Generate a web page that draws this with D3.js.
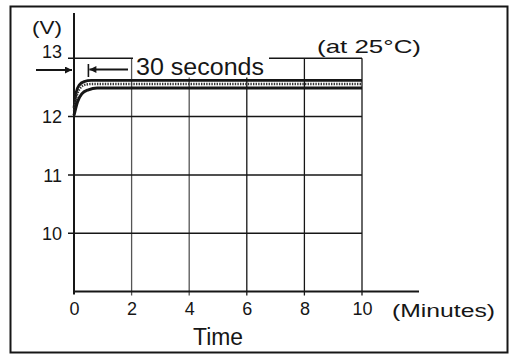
<!DOCTYPE html>
<html>
<head>
<meta charset="utf-8">
<script src="https://cdn.jsdelivr.net/npm/d3@7"></script>
<style>
  body { margin: 0; background: #fff; }
  text { font-family: "Liberation Sans", Arial, sans-serif; fill: #161616; }
</style>
</head>
<body>
<script>
// values (minutes, volts)
const xTicks = [0, 2, 4, 6, 8, 10];
const yTicks = [10, 11, 12, 13];
const upperCurve = [[0, 12.15], [0.08, 12.42], [0.18, 12.54], [0.35, 12.6], [0.6, 12.62], [10, 12.62]];
const middleCurve = [[0, 12.1], [0.1, 12.36], [0.22, 12.49], [0.42, 12.55], [0.7, 12.56], [10, 12.56]];
const lowerCurve = [[0, 12.02], [0.12, 12.25], [0.27, 12.39], [0.5, 12.46], [0.8, 12.49], [10, 12.49]];
const markerMinutes = 0.5;

const W = 514, H = 356;
const svg = d3.select("body").append("svg").attr("width", W).attr("height", H);

const x = d3.scaleLinear().domain([0, 10]).range([74, 362]);
const y = d3.scaleLinear().domain([9, 13]).range([291.5, 58.3]);
const ink = "#161616";

svg.append("rect")
  .attr("x", 10.5).attr("y", 6.5).attr("width", 497).attr("height", 346)
  .attr("fill", "none").attr("stroke", ink).attr("stroke-width", 2);

// grid
svg.append("g").selectAll("line").data(xTicks.filter(d => d > 0)).enter().append("line")
  .attr("x1", d => x(d)).attr("x2", d => x(d))
  .attr("y1", y(9) + 4).attr("y2", y(13))
  .attr("stroke", d => (d < 5 ? "#555" : ink)).attr("stroke-width", 1.3);
svg.append("g").selectAll("line").data(yTicks).enter().append("line")
  .attr("x1", x(0) - 6).attr("x2", x(10))
  .attr("y1", d => y(d)).attr("y2", d => y(d))
  .attr("stroke", ink).attr("stroke-width", 1.5);

// axes
const yAxis = svg.append("g").attr("transform", `translate(${x(0)},0)`)
  .call(d3.axisLeft(y).tickValues(yTicks).tickFormat(d3.format("d")).tickSize(0).tickPadding(12));
yAxis.select(".domain").remove();
yAxis.selectAll("text").attr("font-size", 18).attr("fill", ink)
  .attr("dy", d => (d === 13 ? "-0.02em" : "0.34em"));
const xAxis = svg.append("g").attr("transform", `translate(0,${y(9)})`)
  .call(d3.axisBottom(x).tickValues(xTicks).tickFormat(d3.format("d")).tickSize(0).tickPadding(11));
xAxis.select(".domain").remove();
xAxis.selectAll("text").attr("font-size", 18).attr("fill", ink);

svg.append("line").attr("x1", x(0)).attr("x2", x(0)).attr("y1", y(9) + 3).attr("y2", 13)
  .attr("stroke", ink).attr("stroke-width", 2);
svg.append("line").attr("x1", x(0) - 1).attr("x2", 419).attr("y1", y(9)).attr("y2", y(9))
  .attr("stroke", ink).attr("stroke-width", 2);

// curves
const line = d3.line().x(d => x(d[0])).y(d => y(d[1])).curve(d3.curveMonotoneX);
svg.append("path").datum(upperCurve).attr("d", line)
  .attr("fill", "none").attr("stroke", ink).attr("stroke-width", 2.8);
svg.append("path").datum(middleCurve).attr("d", line)
  .attr("fill", "none").attr("stroke", "#333").attr("stroke-width", 2.4)
  .attr("stroke-dasharray", "1.4,1.2");
svg.append("path").datum(lowerCurve).attr("d", line)
  .attr("fill", "none").attr("stroke", ink).attr("stroke-width", 3);

// 30 seconds marker
const defs = svg.append("defs");
defs.append("marker").attr("id", "head").attr("viewBox", "0 0 10 10")
  .attr("refX", 10).attr("refY", 5).attr("markerWidth", 10).attr("markerHeight", 7)
  .attr("markerUnits", "userSpaceOnUse").attr("orient", "auto")
  .append("path").attr("d", "M0,0L10,5L0,10z").attr("fill", ink);
svg.append("line").attr("x1", 36).attr("x2", x(0) - 2).attr("y1", 70).attr("y2", 70)
  .attr("stroke", ink).attr("stroke-width", 2).attr("marker-end", "url(#head)");
svg.append("line").attr("x1", 128).attr("x2", x(markerMinutes) + 1).attr("y1", 69.5).attr("y2", 69.5)
  .attr("stroke", ink).attr("stroke-width", 2).attr("marker-end", "url(#head)");
svg.append("line").attr("x1", x(markerMinutes)).attr("x2", x(markerMinutes)).attr("y1", 64).attr("y2", 77)
  .attr("stroke", ink).attr("stroke-width", 1.6);

svg.append("rect").attr("x", 133).attr("y", 56.5).attr("width", 136).attr("height", 21).attr("fill", "#fff");

const label = (s, lx, ly, size, width) =>
  svg.append("text").attr("x", lx).attr("y", ly).attr("font-size", size)
    .attr("textLength", width).attr("lengthAdjust", "spacingAndGlyphs").text(s);

label("30 seconds", 136, 75, 23, 128);
label("(V)", 32, 34, 19, 30);
label("(at 25°C)", 317, 53, 19, 104);
label("(Minutes)", 392, 317, 18, 103);
label("Time", 193, 345, 23, 50);
</script>
</body>
</html>
